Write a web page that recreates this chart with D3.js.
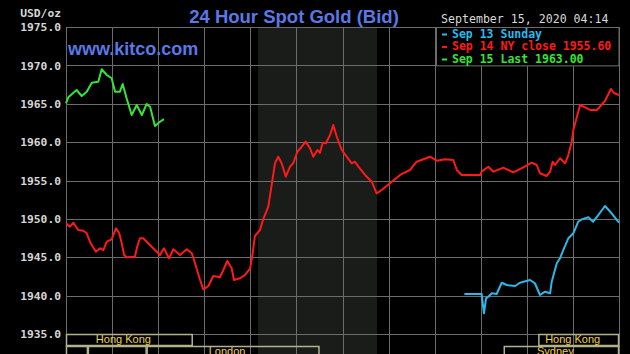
<!DOCTYPE html>
<html>
<head>
<meta charset="utf-8">
<script src="https://cdn.jsdelivr.net/npm/d3@7"></script>
<style>
  html, body { margin: 0; padding: 0; background: #000; }
  svg { display: block; }
</style>
</head>
<body>
<svg id="js-svg" width="630" height="354"></svg>
<script>
// [hour of day, price]
const sep14 = [
  [0.0, 1949.42], [0.17, 1948.98], [0.32, 1949.5], [0.53, 1948.55], [0.75, 1948.46],
  [0.9, 1948.12], [1.07, 1946.82], [1.3, 1945.72], [1.48, 1946.17], [1.62, 1945.94],
  [1.77, 1947.03], [1.98, 1947.34], [2.17, 1948.77], [2.31, 1948.12], [2.42, 1946.82],
  [2.52, 1945.29], [2.63, 1944.99], [2.99, 1945.07], [3.09, 1946.37], [3.21, 1947.47],
  [3.35, 1947.47], [3.57, 1946.82], [3.86, 1945.94], [4.08, 1945.29], [4.25, 1946.17],
  [4.47, 1944.86], [4.66, 1946.04], [4.95, 1945.29], [5.24, 1946.04], [5.46, 1945.51],
  [5.6, 1944.21], [5.82, 1942.04], [5.96, 1940.82], [6.18, 1941.25], [6.39, 1942.56],
  [6.68, 1942.39], [6.83, 1943.34], [7.0, 1944.51], [7.19, 1943.56], [7.29, 1942.04],
  [7.55, 1942.26], [7.77, 1942.69], [7.99, 1943.56], [8.1, 1945.51], [8.2, 1947.77],
  [8.42, 1948.55], [8.56, 1949.98], [8.78, 1951.59], [9.07, 1957.24], [9.21, 1958.1],
  [9.36, 1957.24], [9.54, 1955.5], [9.72, 1956.8], [9.86, 1957.24], [10.04, 1958.75],
  [10.23, 1959.4], [10.4, 1960.06], [10.59, 1959.2], [10.73, 1958.1], [10.91, 1958.97],
  [11.02, 1958.62], [11.14, 1959.93], [11.28, 1959.85], [11.46, 1960.93], [11.6, 1962.23],
  [11.75, 1960.71], [11.97, 1958.97], [12.18, 1958.1], [12.4, 1957.24], [12.54, 1957.45],
  [12.69, 1956.8], [12.98, 1955.72], [13.27, 1954.84], [13.48, 1953.33], [13.7, 1953.76],
  [14.06, 1954.64], [14.5, 1955.72], [14.93, 1956.37], [15.22, 1957.45], [15.8, 1958.1],
  [16.09, 1957.58], [16.45, 1957.76], [16.81, 1957.67], [16.96, 1956.37], [17.17, 1955.72],
  [17.97, 1955.72], [18.04, 1956.15], [18.33, 1956.8], [18.55, 1956.15], [18.98, 1956.67],
  [19.41, 1956.07], [19.85, 1956.72], [20.21, 1957.32], [20.43, 1957.02], [20.57, 1955.94],
  [20.86, 1955.59], [21.01, 1956.15], [21.12, 1957.45], [21.22, 1957.02], [21.44, 1957.89],
  [21.66, 1957.24], [21.8, 1958.32], [21.95, 1960.06], [22.02, 1961.58], [22.31, 1964.84],
  [22.74, 1964.19], [23.05, 1964.19], [23.39, 1965.36], [23.65, 1966.92], [23.78, 1966.4],
  [24.0, 1966.14],
];

const sep13 = [
  [17.29, 1940.21], [18.04, 1940.21], [18.14, 1937.7], [18.23, 1939.65], [18.33, 1939.86],
  [18.48, 1940.3], [18.69, 1940.21], [18.91, 1941.68], [19.13, 1941.38], [19.49, 1941.25],
  [19.7, 1941.68], [20.14, 1942.04], [20.35, 1941.61], [20.57, 1940.08], [20.79, 1940.51],
  [21.01, 1940.3], [21.08, 1941.81], [21.3, 1944.21], [21.44, 1944.86], [21.58, 1945.94],
  [21.8, 1947.47], [22.02, 1948.12], [22.23, 1949.63], [22.38, 1949.94], [22.67, 1950.21],
  [22.88, 1949.63], [23.1, 1950.5], [23.39, 1951.68], [23.68, 1950.73], [24.0, 1949.5],
];

const sep15 = [
  [0.0, 1965.06], [0.1, 1965.84], [0.46, 1966.79], [0.68, 1966.01], [0.9, 1966.57],
  [1.12, 1967.74], [1.4, 1967.87], [1.55, 1969.49], [1.77, 1968.75], [1.98, 1968.32],
  [2.13, 1966.57], [2.34, 1966.57], [2.46, 1967.57], [2.63, 1965.71], [2.85, 1963.53],
  [3.07, 1964.84], [3.29, 1963.53], [3.5, 1964.97], [3.65, 1964.62], [3.86, 1962.1],
  [4.08, 1962.66], [4.25, 1963.0],
];

const yTicks = [1935, 1940, 1945, 1950, 1955, 1960, 1965, 1970, 1975];
const xTicks = [0, 2, 4, 6, 8, 10, 12, 14, 16, 18, 20, 22, 24];
const comexHours = [8 + 20 / 60, 13.5];

// trading sessions along the bottom: [row, start, end, label]
const sessions = [
  [0, 0, 5.5, "Hong Kong"],
  [0, 20.5, 24, "Hong Kong"],
  [1, 0, 0.95, ""],
  [1, 0.95, 3.5, ""],
  [1, 3.5, 11, "London"],
  [1, 19, 24, "Sydney"],
];

const legendLabels = ["Sep 13 Sunday", "Sep 14 NY close 1955.60", "Sep 15 Last 1963.00"];
const titleText = "24 Hour Spot Gold (Bid)";
const dateText = "September 15, 2020 04:14";

const colors = { sep13: "#2bb9ea", sep14: "#ff1a1a", sep15: "#33e633" };
const mono = "'DejaVu Sans Mono', monospace";
const sans = "'Liberation Sans', Arial, sans-serif";

const plotLeft = 66, plotRight = 619, plotTop = 27, plotBottom = 334, svgHeight = 354;

const svg = d3.select("#js-svg");
svg.append("rect").attr("width", 630).attr("height", svgHeight).attr("fill", "#000");

const x = d3.scaleLinear().domain([0, 24]).range([plotLeft, plotRight]);
const y = d3.scaleLinear().domain([1935, 1975]).range([plotBottom, plotTop]);

// COMEX shading
svg
  .append("rect")
  .attr("x", x(comexHours[0]))
  .attr("y", plotTop)
  .attr("width", x(comexHours[1]) - x(comexHours[0]))
  .attr("height", svgHeight - plotTop)
  .attr("fill", "#1a1c19");

// vertical grid
const xAxis = svg
  .append("g")
  .attr("transform", `translate(0,${svgHeight})`)
  .call(d3.axisBottom(x).tickValues(xTicks).tickSize(-(svgHeight - plotTop)).tickFormat(""));
xAxis.select(".domain").remove();
xAxis.selectAll("line").attr("stroke", "#6c6c6c").attr("shape-rendering", "crispEdges");

// horizontal grid + labels
const yAxis = svg
  .append("g")
  .attr("transform", `translate(${plotLeft},0)`)
  .call(
    d3
      .axisLeft(y)
      .tickValues(yTicks)
      .tickSize(-(plotRight - plotLeft))
      .tickPadding(5)
      .tickFormat(d3.format(".1f"))
  );
yAxis.select(".domain").remove();
yAxis.selectAll("line").attr("stroke", "#6c6c6c").attr("shape-rendering", "crispEdges");
yAxis
  .selectAll("text")
  .attr("fill", "#d6d6d6")
  .attr("font-family", mono)
  .attr("font-weight", "bold")
  .attr("font-size", 11.3);

svg
  .append("text")
  .attr("x", 61)
  .attr("y", 17)
  .attr("text-anchor", "end")
  .attr("fill", "#d6d6d6")
  .attr("font-family", mono)
  .attr("font-weight", "bold")
  .attr("font-size", 11.3)
  .text("USD/oz");

// session boxes
const rowTop = [plotBottom, plotBottom + 12];
const rowH = 11;
const sess = svg.append("g");
sessions.forEach(([row, s, e, label]) => {
  sess
    .append("rect")
    .attr("x", x(s) + 0.5)
    .attr("y", rowTop[row] + 0.5)
    .attr("width", x(e) - x(s) - 1)
    .attr("height", rowH)
    .attr("fill", "none")
    .attr("stroke", "#b3b38b")
    .attr("stroke-width", 1.5);
  if (label) {
    sess
      .append("text")
      .attr("x", (x(s) + x(e)) / 2 - 6)
      .attr("y", rowTop[row] + 9)
      .attr("text-anchor", "middle")
      .attr("fill", "#f0d04c")
      .attr("font-family", sans)
      .attr("font-size", 11)
      .text(label);
  }
});

// price lines
const line = d3
  .line()
  .x((d) => x(d[0]))
  .y((d) => y(d[1]));

[
  [sep14, colors.sep14],
  [sep13, colors.sep13],
  [sep15, colors.sep15],
].forEach(([data, c]) => {
  svg
    .append("path")
    .datum(data)
    .attr("d", line)
    .attr("fill", "none")
    .attr("stroke", c)
    .attr("stroke-width", 2)
    .attr("stroke-linejoin", "round");
});

// legend
svg
  .append("rect")
  .attr("x", 436.5)
  .attr("y", plotTop + 0.5)
  .attr("width", plotRight - 436.5)
  .attr("height", y(1970) - plotTop)
  .attr("fill", "#000")
  .attr("stroke", "#6c6c6c");

const legendColors = [colors.sep13, colors.sep14, colors.sep15];
legendLabels.forEach((t, i) => {
  const by = 37.5 + i * 12.5;
  svg
    .append("rect")
    .attr("x", 442)
    .attr("y", by - 4)
    .attr("width", 5)
    .attr("height", 2)
    .attr("fill", legendColors[i]);
  svg
    .append("text")
    .attr("x", 452)
    .attr("y", by)
    .attr("fill", legendColors[i])
    .attr("font-family", mono)
    .attr("font-weight", "bold")
    .attr("font-size", 11.5)
    .text(t);
});

svg
  .append("text")
  .attr("x", 441)
  .attr("y", 23)
  .attr("fill", "#d8d8d8")
  .attr("font-family", mono)
  .attr("font-size", 11.6)
  .text(dateText);

// titles
svg
  .append("text")
  .attr("x", 294)
  .attr("y", 23)
  .attr("text-anchor", "middle")
  .attr("fill", "#5a78e6")
  .attr("font-family", sans)
  .attr("font-weight", "bold")
  .attr("font-size", 18.5)
  .text(titleText);

svg
  .append("text")
  .attr("x", 68)
  .attr("y", 55)
  .attr("fill", "#5a78e6")
  .attr("font-family", sans)
  .attr("font-weight", "bold")
  .attr("font-size", 18)
  .text("www.kitco.com");
</script>
</body>
</html>
